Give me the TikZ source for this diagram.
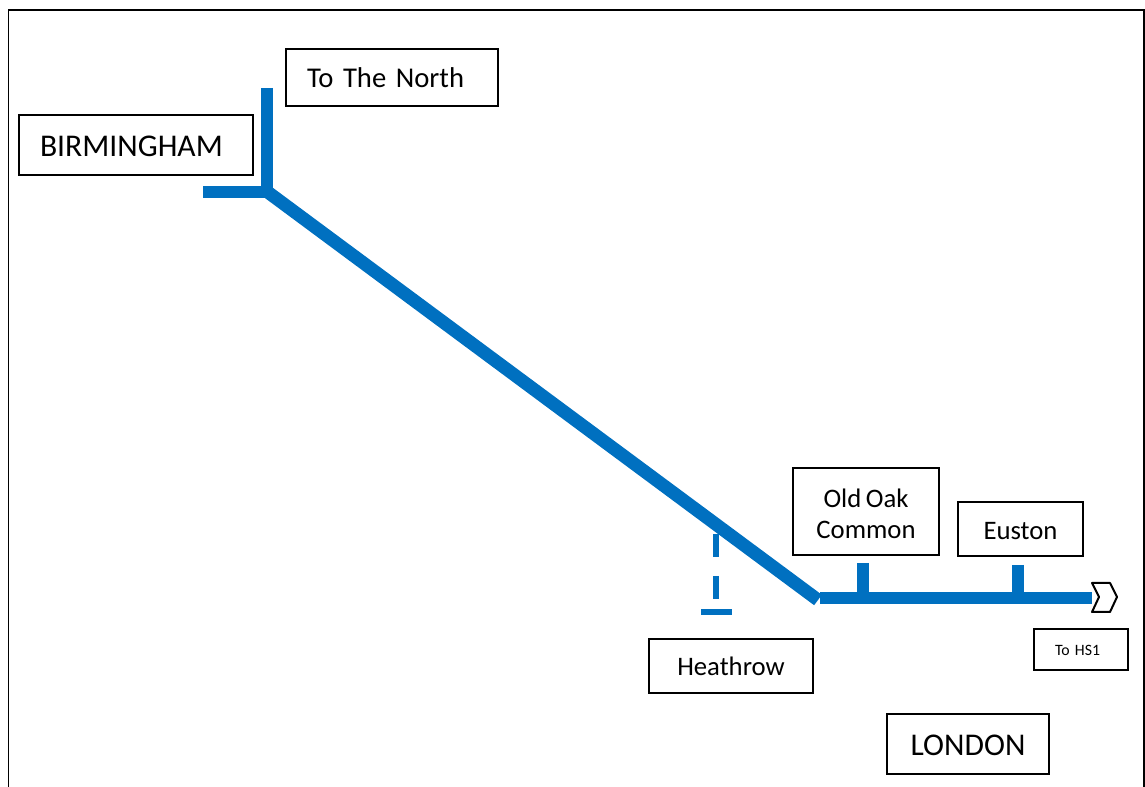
\documentclass[tikz,border=0pt]{standalone}
\usepackage{fontspec}
\setmainfont[WordSpace=0.75]{Carlito}
\tikzset{
	placebox/.style={draw, line width=0.04cm, rectangle, inner sep=0, align=center},
	oneline/.style={text height=#1, text depth=0pt},
	leftbox/.style={placebox, align=left, inner xsep=0.42cm},
	railline/.style={line width=0.24cm, color=railblue},
	spurline/.style={line width=0.12cm, color=railblue}
}
\definecolor{railblue}{RGB}{0,112,192}

\begin{document}
\begin{tikzpicture}
			%%%%% FRAME %%%%%
			\useasboundingbox (0, 0) rectangle (22.9, 15.74);
			\draw[line width=0.04cm] (0.17, -0.2) -- (0.17, 15.54) -- (22.88, 15.54) -- (22.88, -0.2);
			
			%%%%% PLACES %%%%%
			\node[leftbox, oneline=0.41cm, font=\fontsize{16.3}{19}\selectfont, minimum width=4.24cm, minimum height=1.14cm, text width=3.4cm] (north) at (7.84, 14.19) {To The North};
			\node[leftbox, oneline=0.45cm, font=\fontsize{18}{21}\selectfont, minimum width=4.68cm, minimum height=1.2cm, text width=3.84cm] (birmingham) at (2.72, 12.84) {BIRMINGHAM};
			\node[placebox, font=\fontsize{15.2}{17.6}\selectfont, minimum width=2.92cm, minimum height=1.74cm] (oldoak) at (17.32, 5.5) {\rule{0pt}{0.85em}Old Oak\\Common};
			\node[placebox, oneline=0.42cm, font=\fontsize{15.2}{18}\selectfont, minimum width=2.5cm, minimum height=1.08cm] (euston) at (20.41, 5.16) {Euston};
			\node[placebox, oneline=0.39cm, font=\fontsize{15.2}{18}\selectfont, minimum width=3.28cm, minimum height=1.08cm] (heathrow) at (14.62, 2.42) {Heathrow};
			\node[leftbox, oneline=0.25cm, font=\fontsize{9}{11}\selectfont, minimum width=1.88cm, minimum height=0.82cm, text width=1.04cm] (hsone) at (21.62, 2.75) {To HS1};
			\node[placebox, oneline=0.45cm, font=\fontsize{18}{21}\selectfont, minimum width=3.24cm, minimum height=1.2cm] (london) at (19.36, 0.86) {LONDON};
			
			%%%%% LINE %%%%%
			\coordinate (northend) at (5.34, 13.98);
			\coordinate (junction) at (5.34, 11.9);
			\coordinate (birmend) at (4.06, 11.9);
			\coordinate (fork) at (5.38, 11.88);
			\coordinate (bend) at (16.36, 3.74);
			\coordinate (hsstart) at (16.4, 3.78);
			\coordinate (hsend) at (21.84, 3.78);
			
			\draw[railline] (northend) -- ([yshift=-0.12cm]junction);
			\draw[railline] (birmend) -- (junction);
			\draw[railline, line width=0.26cm] (fork) -- (bend);
			\draw[railline] (hsstart) -- (hsend);
			
			\draw[railline] (17.26, 4.48) -- (17.26, 3.9);
			\draw[railline] (20.36, 4.44) -- (20.36, 3.9);
			
			%%%%% HEATHROW SPUR %%%%%
			\draw[spurline] (14.32, 5.06) -- (14.32, 4.6);
			\draw[spurline] (14.32, 4.22) -- (14.32, 3.76);
			\draw[spurline] (14.02, 3.5) -- (14.64, 3.5);
			
			%%%%% END MARK %%%%%
			\draw[line width=0.04cm, line join=round] (21.84, 4.08) -- (22.2, 4.08) -- (22.34, 3.8) -- (22.2, 3.5) -- (21.84, 3.5) -- (21.98, 3.8) -- cycle;
		\end{tikzpicture}
\end{document}
